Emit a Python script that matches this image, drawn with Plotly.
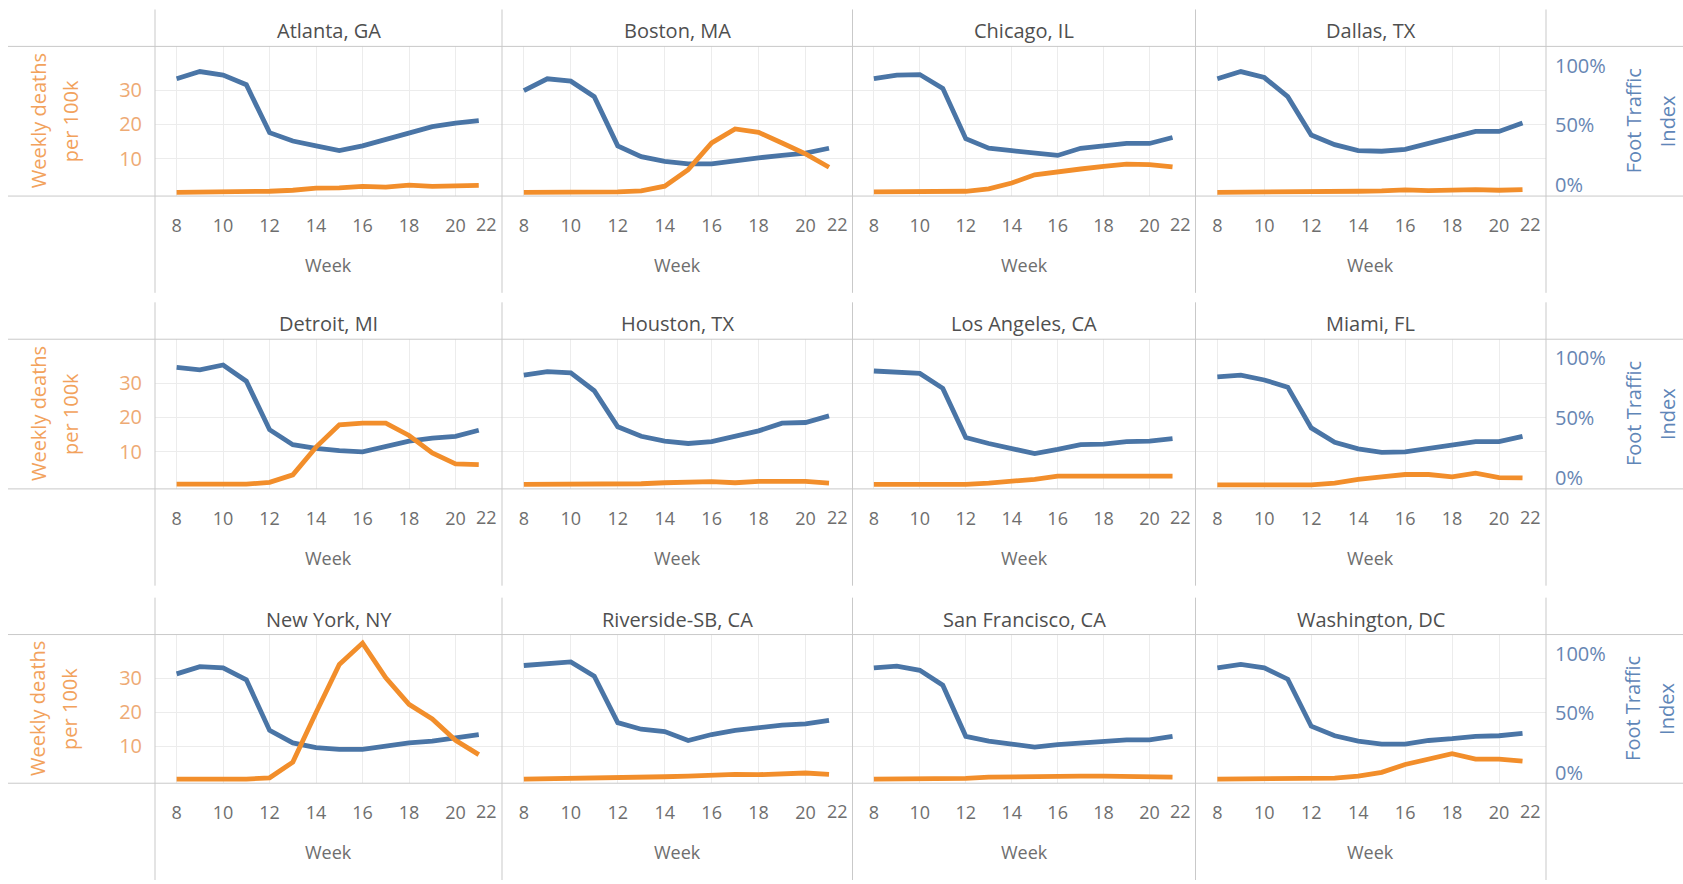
import plotly.graph_objects as go

W, H = 1683, 884

weeks = list(range(8, 22))

# Foot traffic index (%) and weekly deaths per 100k, by metro area
atlanta_traffic = [89, 95, 92, 84, 44, 37, 33, 29, 33, 38, 44, 49, 52, 54]
atlanta_deaths = [0.2, 0.2, 0.2, 0.3, 0.5, 0.8, 1.4, 1.5, 1.9, 1.7, 2.3, 1.9, 1.9, 2.2]

boston_traffic = [79, 89, 87, 74, 33, 24, 20, 18, 18, 21, 23, 25, 27, 31]
boston_deaths = [0.2, 0.2, 0.2, 0.2, 0.3, 0.6, 2.0, 6.8, 14.6, 18.7, 17.7, 14.6, 11.4, 7.5]

chicago_traffic = [89, 92, 92.5, 81, 39, 31, 29, 27, 25, 31, 33, 35, 35, 40]
chicago_deaths = [0.3, 0.3, 0.3, 0.3, 0.5, 1.2, 2.9, 5.3, 6.3, 7.0, 7.8, 8.4, 8.3, 7.6]

dallas_traffic = [89, 95, 90, 74, 42, 34, 29, 28.5, 30, 35, 39, 45, 45, 52]
dallas_deaths = [0.2, 0.2, 0.2, 0.2, 0.3, 0.4, 0.5, 0.6, 0.9, 0.7, 0.9, 1.0, 0.8, 1.0]

detroit_traffic = [92.5, 90.5, 94.5, 81, 40.5, 28, 25, 23, 22, 27, 31, 33.5, 35, 40]
detroit_deaths = [0.5, 0.5, 0.5, 0.5, 1.0, 3.2, 11.3, 17.8, 18.3, 18.3, 14.7, 9.6, 6.4, 6.2]

houston_traffic = [86, 89, 88, 73, 43, 35, 31, 29, 30.5, 35.5, 39.5, 46, 46.5, 52]
houston_deaths = [0.4, 0.4, 0.4, 0.4, 0.4, 0.6, 0.9, 1.1, 1.2, 0.9, 1.3, 1.3, 1.3, 0.8]

la_traffic = [89.5, 88, 87.5, 75, 34, 29, 25, 20.5, 24, 28, 28.5, 30.5, 31, 33]
la_deaths = [0.4, 0.4, 0.4, 0.4, 0.4, 0.8, 1.2, 1.9, 2.8, 2.8, 2.8, 2.8, 2.5, 2.8]

miami_traffic = [84.5, 86, 82, 76, 42, 30, 24.5, 21.5, 22, 25, 28, 30.5, 30.5, 35]
miami_deaths = [0.3, 0.3, 0.3, 0.3, 0.3, 0.8, 1.9, 2.6, 3.3, 3.3, 2.6, 3.7, 2.4, 2.3]

newyork_traffic = [83, 89, 88, 78, 35.5, 25, 21, 19.5, 19.5, 22.5, 25, 26.5, 29, 32]
newyork_deaths = [0.3, 0.3, 0.3, 0.3, 0.7, 5.3, 19.9, 34.0, 40.3, 30.1, 22.3, 18.0, 11.7, 7.5]

riverside_traffic = [90, 92, 93, 81, 42, 36.5, 34.5, 27, 32, 35.5, 38, 40, 41, 44]
riverside_deaths = [0.3, 0.4, 0.4, 0.4, 0.5, 0.7, 1.0, 1.2, 1.6, 1.7, 1.6, 1.7, 2.1, 1.7]

sf_traffic = [88, 89.5, 86, 73.5, 30.5, 26.5, 24, 21.5, 23.5, 25, 26, 27.5, 27.5, 30.5]
sf_deaths = [0.3, 0.3, 0.3, 0.3, 0.5, 0.9, 1.0, 1.2, 1.4, 1.2, 1.2, 1.0, 1.0, 0.9]

washington_traffic = [88, 91, 88, 78.5, 39, 31, 26.5, 24, 24, 27, 28.5, 30.5, 31, 33]
washington_deaths = [0.3, 0.3, 0.3, 0.3, 0.3, 0.6, 1.2, 2.3, 4.6, 6.2, 7.8, 6.2, 6.2, 5.6]

city_names = [
    "Atlanta, GA", "Boston, MA", "Chicago, IL", "Dallas, TX",
    "Detroit, MI", "Houston, TX", "Los Angeles, CA", "Miami, FL",
    "New York, NY", "Riverside-SB, CA", "San Francisco, CA", "Washington, DC",
]
traffic_series = [
    atlanta_traffic, boston_traffic, chicago_traffic, dallas_traffic,
    detroit_traffic, houston_traffic, la_traffic, miami_traffic,
    newyork_traffic, riverside_traffic, sf_traffic, washington_traffic,
]
death_series = [
    atlanta_deaths, boston_deaths, chicago_deaths, dallas_deaths,
    detroit_deaths, houston_deaths, la_deaths, miami_deaths,
    newyork_deaths, riverside_deaths, sf_deaths, washington_deaths,
]

x_ticks = [8, 10, 12, 14, 16, 18, 20, 22]
death_ticks = [10, 20, 30]
traffic_ticks = [0, 50, 100]
traffic_tick_text = ["0%", "50%", "100%"]

BLUE = "#4a75a6"
ORANGE = "#f28e2b"
GRID = "#ececec"
RULE = "#c9c9c9"
TITLE_GRAY = "#4f4f4f"
TICK_GRAY = "#6e6e6e"
LEFT_TICK = "#eeaa74"
LEFT_TITLE = "#f2a25c"
RIGHT_TICK = "#6786b3"
RIGHT_TITLE = "#5f86b8"
FONT = "Open Sans"

col_edges = [(155, 502), (502, 852.5), (852.5, 1195.5), (1195.5, 1546)]
row_edges = [(46.5, 196.5), (340, 490), (636, 785)]


def fx(px):
    return px / W


def fy(py):
    return 1 - py / H


fig = go.Figure()
layout = {}
annotations = []
shapes = []

for i, name in enumerate(city_names):
    r, c = divmod(i, 4)
    x0, x1 = col_edges[c]
    top, bot = row_edges[r]
    sfx = str(i + 1) if i else ""
    xa = "x" + sfx
    yt = "y" + (str(2 * i + 1) if i else "")
    yd = "y" + str(2 * i + 2)

    fig.add_trace(go.Scatter(
        x=weeks, y=traffic_series[i], xaxis=xa, yaxis=yt, mode="lines",
        line=dict(color=BLUE, width=4.8), showlegend=False, name="Foot Traffic Index"))
    fig.add_trace(go.Scatter(
        x=weeks, y=death_series[i], xaxis=xa, yaxis=yd, mode="lines",
        line=dict(color=ORANGE, width=4.8), showlegend=False, name="Weekly deaths per 100k"))

    layout["xaxis" + sfx] = dict(
        domain=[fx(x0), fx(x1)], anchor=yt, range=[7.07, 22],
        tickvals=x_ticks, ticktext=[str(v) for v in x_ticks[:-1]] + [""],
        ticks="", ticklabelstandoff=17, showline=False, zeroline=False,
        showgrid=True, gridcolor=GRID, gridwidth=1,
        tickfont=dict(family=FONT, size=18, color=TICK_GRAY),
    )
    layout["yaxis" + (str(2 * i + 1) if i else "")] = dict(
        domain=[fy(bot), fy(top)], anchor=xa, side="right", range=[-8.9, 116],
        tickvals=traffic_ticks, ticktext=traffic_tick_text, ticks="",
        showticklabels=(c == 3), ticklabelstandoff=8,
        showgrid=False, zeroline=False, showline=False,
        tickfont=dict(family=FONT, size=20, color=RIGHT_TICK),
    )
    layout["yaxis" + str(2 * i + 2)] = dict(
        overlaying=yt, anchor=xa, side="left", range=[-0.9, 42.8],
        tickvals=death_ticks, ticks="", showticklabels=(c == 0), ticklabelstandoff=12,
        showgrid=True, gridcolor=GRID, gridwidth=1, zeroline=False, showline=False,
        tickfont=dict(family=FONT, size=20, color=LEFT_TICK),
    )

    cx = (x0 + x1) / 2
    annotations.append(dict(
        text=name, x=fx(cx), y=fy(top - 15.5), xref="paper", yref="paper",
        showarrow=False, xanchor="center", yanchor="middle",
        font=dict(family=FONT, size=20, color=TITLE_GRAY)))
    annotations.append(dict(
        text="Week", x=fx(cx), y=fy(bot + 69), xref="paper", yref="paper",
        showarrow=False, xanchor="center", yanchor="middle",
        font=dict(family=FONT, size=18, color=TICK_GRAY)))
    annotations.append(dict(
        text="22", x=22, xref=xa, y=fy(bot + 28), yref="paper", xshift=-3,
        showarrow=False, xanchor="right", yanchor="middle",
        font=dict(family=FONT, size=18, color=TICK_GRAY)))

for r, (top, bot) in enumerate(row_edges):
    mid = (top + bot) / 2
    for yy in (top, bot):
        shapes.append(dict(type="line", xref="paper", yref="paper",
                           x0=fx(8), x1=1, y0=fy(yy), y1=fy(yy),
                           line=dict(color=RULE, width=1)))
    for xx in (155, 502, 852.5, 1195.5, 1546):
        shapes.append(dict(type="line", xref="paper", yref="paper",
                           x0=fx(xx), x1=fx(xx), y0=fy(top - 37), y1=fy(min(bot + 97, H)),
                           line=dict(color=RULE, width=1)))
    for text, xx in (("Weekly deaths", 38), ("per 100k", 70)):
        annotations.append(dict(
            text=text, x=fx(xx), y=fy(mid), xref="paper", yref="paper",
            showarrow=False, textangle=-90, xanchor="center", yanchor="middle",
            font=dict(family=FONT, size=20, color=LEFT_TITLE)))
    for text, xx in (("Foot Traffic", 1633), ("Index", 1667)):
        annotations.append(dict(
            text=text, x=fx(xx), y=fy(mid), xref="paper", yref="paper",
            showarrow=False, textangle=-90, xanchor="center", yanchor="middle",
            font=dict(family=FONT, size=20, color=RIGHT_TITLE)))

fig.update_layout(
    width=W, height=H, margin=dict(l=0, r=0, t=0, b=0),
    paper_bgcolor="white", plot_bgcolor="white",
    font=dict(family=FONT), showlegend=False,
    annotations=annotations, shapes=shapes, **layout,
)

fig.write_html("out.html")
